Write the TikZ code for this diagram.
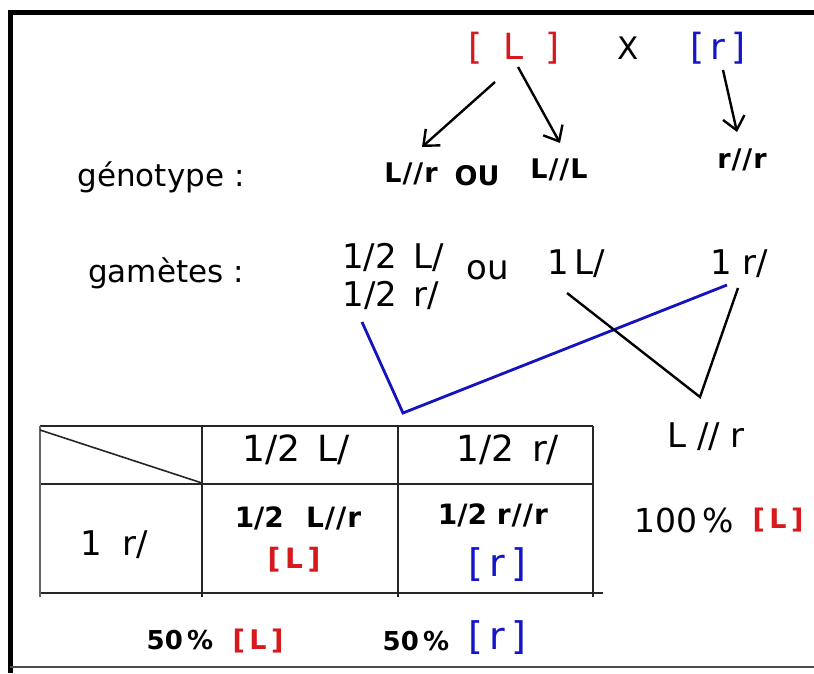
\documentclass[tikz,border=0pt]{standalone}
\usepackage{fontspec}
\setmainfont{DejaVu Sans}
\usetikzlibrary{arrows.meta}
\definecolor{myred}{RGB}{215,25,30}
\definecolor{myblue}{RGB}{20,20,200}
\definecolor{lineblue}{RGB}{20,20,190}
\newcommand{\sls}{\kern1pt/\kern1pt/\kern1pt}
\tikzset{
  lbl/.style={inner sep=0pt, font=\fontsize{31}{34}\selectfont},
  gam/.style={inner sep=0pt, font=\fontsize{34}{38}\selectfont},
  geno/.style={inner sep=0pt, font=\fontsize{27}{30}\selectfont\bfseries},
  cell/.style={inner sep=0pt, font=\fontsize{28}{30}\selectfont\bfseries},
  hdr/.style={inner sep=0pt, font=\fontsize{36}{38}\selectfont},
  arr/.style={line width=2.4pt, -{Straight Barb[length=13pt,width=22pt,line width=2.4pt]}},
  tab/.style={line width=1.8pt, black!85},
  pheno/.style={inner sep=0pt},
}
\begin{document}
\begin{tikzpicture}[x=1pt,y=-1pt]
\useasboundingbox (0,0) rectangle (814,673);
\fill[white] (0,0) rectangle (814,673);
% frame
\draw[line width=5pt] (10,12) -- (814,12);
\draw[line width=5pt] (10,10) -- (10,673);
\draw[line width=1.2pt, black!70] (10,667) -- (814,667);

% parents
\node[pheno, text=myred, font=\fontsize{36}{40}\selectfont] (PL) at (514,48) {[\; L\; ]};
\node[pheno, font=\fontsize{31}{34}\selectfont] (X) at (628,48) {X};
\node[pheno, text=myblue, font=\fontsize{36}{40}\selectfont] (PR) at (718,48) {[\,r\,]};

% labels
\node[lbl] (geno) at (161,177) {génotype :};
\node[lbl] (gam) at (166,273) {gamètes :};

% genotypes
\node[geno] (Lr) at (411,174) {L\sls r};
\node[geno] (ou1) at (477,176) {OU};
\node[geno] (LL) at (559,170) {L\sls L};
\node[geno] (rr) at (742,160) {r\sls r};

% arrows
\coordinate (a1s) at (495,82);
\coordinate (a1e) at (422,147);
\coordinate (a2s) at (518,67);
\coordinate (a2e) at (560,143);
\coordinate (a3s) at (723,70);
\coordinate (a3e) at (737,132);
\draw[arr] (a1s) -- (a1e);
\draw[arr] (a2s) -- (a2e);
\draw[arr] (a3s) -- (a3e);

% gametes
\node[gam] (g1) at (393,257) {1/2\, L/};
\node[gam] (g2) at (391,295) {1/2\, r/};
\node[gam] (ou2) at (488,270) {ou};
\node[gam] (g3) at (576,264) {1\,L/};
\node[gam] (g4) at (739,264) {1 r/};

% crossing lines
\coordinate (b1) at (362,322);
\coordinate (b2) at (403,413);
\coordinate (b3) at (727,285);
\draw[line width=2.8pt, lineblue] (b1) -- (b2) -- (b3);
\coordinate (k1) at (567,293);
\coordinate (k2) at (700,397);
\coordinate (k3) at (738,288);
\draw[line width=2.4pt] (k1) -- (k2) -- (k3);

\node[gam] (F1) at (706,437) {L // r};

% table
\draw[tab] (40,426) -- (593,426);
\draw[tab] (40,484) -- (593,484);
\draw[tab] (40,593) -- (603,593);
\draw[tab, line width=1.2pt, black!60] (40,426) -- (40,597);
\draw[tab] (202,426) -- (202,597);
\draw[tab] (398,426) -- (398,597);
\draw[tab] (593,426) -- (593,597);
\draw[tab, line width=1.6pt] (40,430) -- (202,483);

\node[hdr] (h1) at (296,450) {1/2\, L/};
\node[hdr] (h2) at (508,450) {1/2\, r/};
\node[hdr, font=\fontsize{34}{38}\selectfont] (rowh) at (114,545) {1\; r/};
\node[cell] (c1) at (298,518) {1/2\;\, L\sls r};
\node[pheno, text=myred, font=\fontsize{28}{30}\selectfont\bfseries] (c1p) at (294,560) {[\,L\,]};
\node[cell] (c2) at (493,515) {1/2 r\sls r};
\node[pheno, text=myblue, font=\fontsize{38}{40}\selectfont] (c2p) at (497,565) {[\,r\,]};

% results
\node[pheno, font=\fontsize{33}{36}\selectfont] (hund) at (684,520) {100\,\%};
\node[pheno, text=myred, font=\fontsize{27}{30}\selectfont\bfseries] (hundp) at (778,520) {[\,L\,]};
\node[pheno, font=\fontsize{26}{28}\selectfont\bfseries] (f1) at (180,640) {50\,\%};
\node[pheno, text=myred, font=\fontsize{27}{30}\selectfont\bfseries] (f1p) at (258,641) {[\,L\,]};
\node[pheno, font=\fontsize{26}{28}\selectfont\bfseries] (f2) at (416,641) {50\,\%};
\node[pheno, text=myblue, font=\fontsize{38}{40}\selectfont] (f2p) at (497,638) {[\,r\,]};
\end{tikzpicture}
\end{document}
